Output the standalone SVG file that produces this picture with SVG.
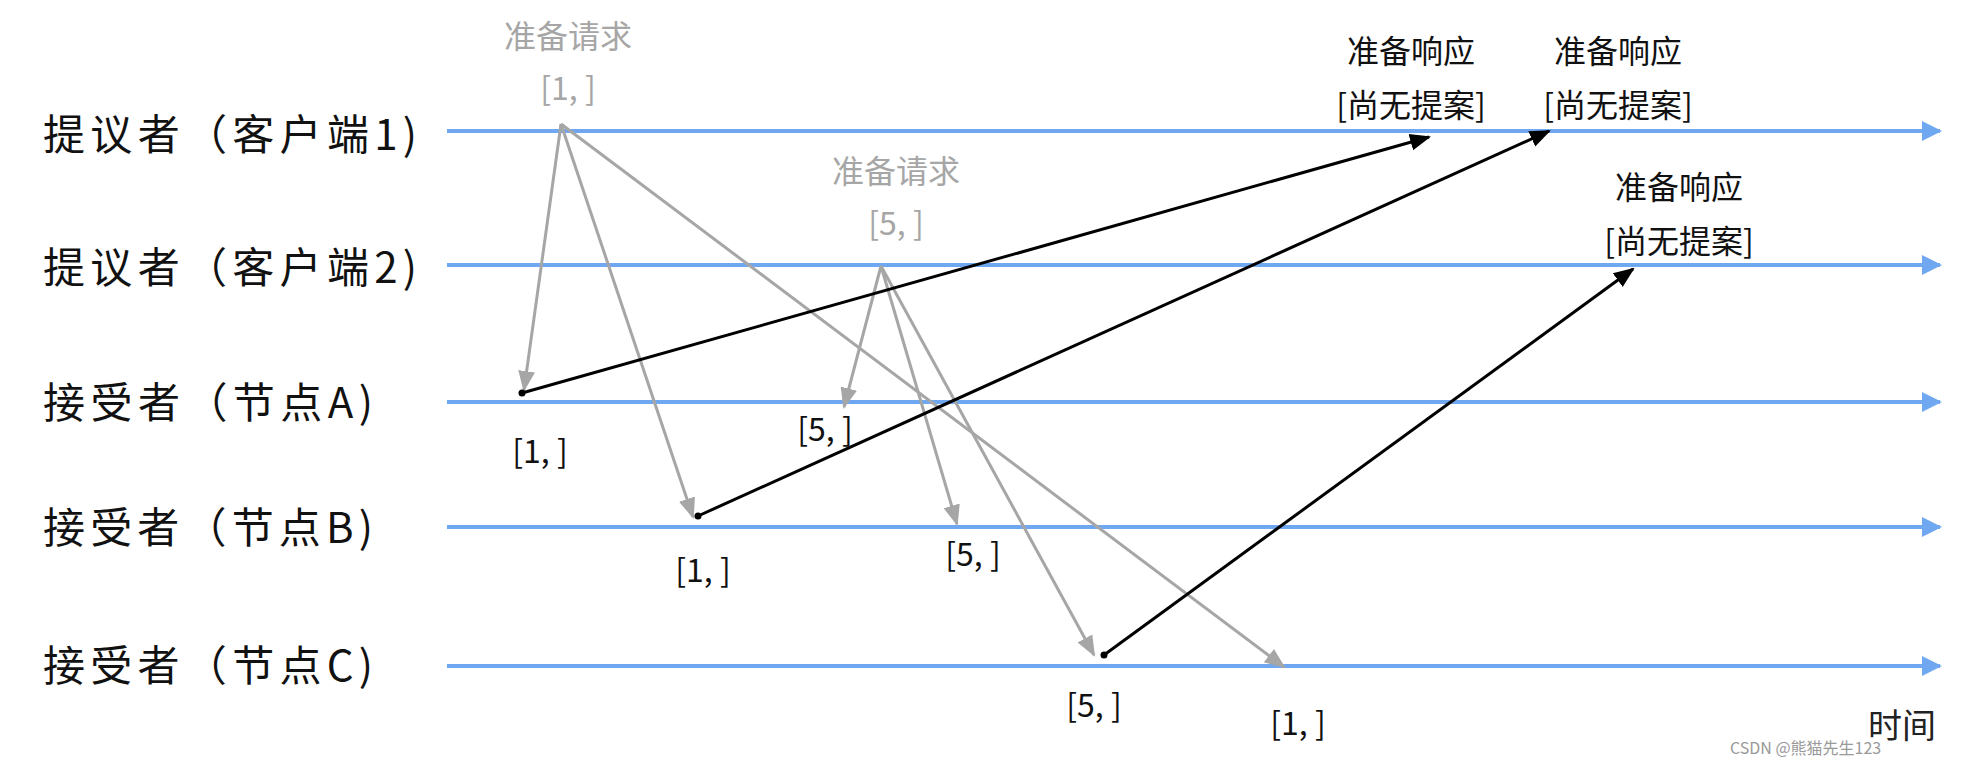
<svg xmlns="http://www.w3.org/2000/svg" width="1968" height="762" viewBox="0 0 1968 762">
<defs>
<marker id="blue" viewBox="0 0 10 10" refX="9" refY="5" markerWidth="5" markerHeight="5" orient="auto" markerUnits="strokeWidth"><path d="M0,0L10,5L0,10z" fill="#6fa8f0"/></marker>
<marker id="gray" viewBox="0 0 10 10" refX="9" refY="5" markerWidth="7" markerHeight="7" orient="auto" markerUnits="strokeWidth"><path d="M0,1L10,5L0,9z" fill="#a6a6a6"/></marker>
<marker id="black" viewBox="0 0 10 10" refX="9" refY="5" markerWidth="7" markerHeight="7" orient="auto" markerUnits="strokeWidth"><path d="M0,1L10,5L0,9z" fill="#000"/></marker>
</defs>
<style>
.lane{stroke:#6fa8f0;stroke-width:4;fill:none}
.g{stroke:#a6a6a6;stroke-width:3;fill:none}
.k{stroke:#000;stroke-width:3;fill:none}
text{font-family:"Noto Sans CJK SC","Liberation Sans",sans-serif}
.lbl{font-size:42px;fill:#111}
.gt{font-size:32px;fill:#a6a6a6;text-anchor:middle}
.kt{font-size:32px;fill:#111;text-anchor:middle}
</style>
<rect width="1968" height="762" fill="#fff"/>
<g id="lanes">
<g id="lane1"><text class="lbl" x="43" y="150" textLength="374">提议者（客户端1)</text></g>
<g id="lane2"><text class="lbl" x="43" y="283" textLength="374">提议者（客户端2)</text></g>
<g id="lane3"><text class="lbl" x="43" y="418" textLength="330">接受者（节点A)</text></g>
<g id="lane4"><text class="lbl" x="43" y="543" textLength="330">接受者（节点B)</text></g>
<g id="lane5"><text class="lbl" x="43" y="681" textLength="330">接受者（节点C)</text></g>
</g>
<g id="connectors">
<line class="lane" x1="447" y1="131" x2="1940" y2="131" marker-end="url(#blue)"/>
<line class="lane" x1="447" y1="265" x2="1940" y2="265" marker-end="url(#blue)"/>
<line class="lane" x1="447" y1="402" x2="1940" y2="402" marker-end="url(#blue)"/>
<line class="lane" x1="447" y1="527" x2="1940" y2="527" marker-end="url(#blue)"/>
<line class="lane" x1="447" y1="666" x2="1940" y2="666" marker-end="url(#blue)"/>
<line class="g" x1="561" y1="124" x2="524" y2="390" marker-end="url(#gray)"/>
<line class="g" x1="561" y1="124" x2="693" y2="517" marker-end="url(#gray)"/>
<line class="g" x1="561" y1="124" x2="1284" y2="667" marker-end="url(#gray)"/>
<line class="g" x1="881" y1="266" x2="844" y2="407" marker-end="url(#gray)"/>
<line class="g" x1="881" y1="266" x2="957" y2="524" marker-end="url(#gray)"/>
<line class="g" x1="881" y1="266" x2="1094" y2="655" marker-end="url(#gray)"/>
<line class="k" x1="522" y1="393" x2="1429" y2="137" marker-end="url(#black)"/>
<line class="k" x1="698" y1="516" x2="1549" y2="131" marker-end="url(#black)"/>
<line class="k" x1="1104" y1="655" x2="1633" y2="269" marker-end="url(#black)"/>
<circle cx="522" cy="393" r="3.5"/><circle cx="698" cy="516" r="3.5"/><circle cx="1104" cy="655" r="3.5"/>
</g>
<g id="labels">
<text class="gt" x="568" y="48">准备请求</text>
<text class="gt" x="568" y="100">[1, ]</text>
<text class="gt" x="896" y="183">准备请求</text>
<text class="gt" x="896" y="235">[5, ]</text>
<text class="kt" x="1411" y="63">准备响应</text>
<text class="kt" x="1411" y="117">[尚无提案]</text>
<text class="kt" x="1618" y="63">准备响应</text>
<text class="kt" x="1618" y="117">[尚无提案]</text>
<text class="kt" x="1679" y="199">准备响应</text>
<text class="kt" x="1679" y="253">[尚无提案]</text>
<text class="kt" x="540" y="463">[1, ]</text>
<text class="kt" x="825" y="441">[5, ]</text>
<text class="kt" x="703" y="582">[1, ]</text>
<text class="kt" x="973" y="566">[5, ]</text>
<text class="kt" x="1094" y="717">[5, ]</text>
<text class="kt" x="1298" y="735">[1, ]</text>
<text x="1868" y="738" font-size="34" fill="#222">时间</text>
<text x="1730" y="754" font-size="16" fill="#999">CSDN @熊猫先生123</text>
</g>
</svg>
